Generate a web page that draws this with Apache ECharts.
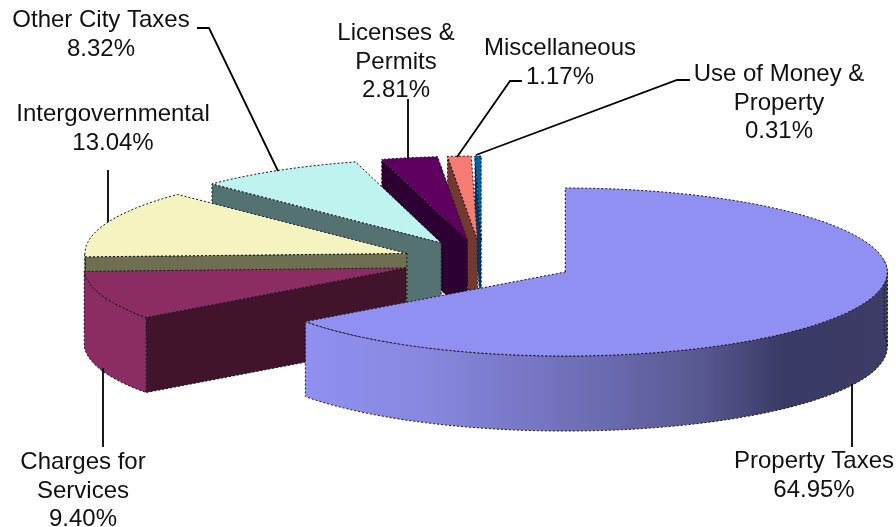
<!DOCTYPE html>
<html>
<head>
<meta charset="utf-8">
<style>html,body{margin:0;padding:0;background:#fff}#chart{width:896px;height:527px}</style>
<script src="https://cdn.jsdelivr.net/npm/echarts@6/dist/echarts.min.js"></script>
</head>
<body>
<div id="chart"></div>
<script>
// Share of revenue by source, in percent, clockwise from twelve o'clock.
const categories = ['Property Taxes', 'Charges for Services', 'Intergovernmental', 'Other City Taxes', 'Licenses & Permits', 'Miscellaneous', 'Use of Money & Property'];
const shares = [64.95, 9.40, 13.04, 8.32, 2.81, 1.17, 0.31];
const explode = [0.29, 0.25, 0.25, 0.25, 0.25, 0.25, 0.25];
const topColors = ['#9090F2', '#8B2C62', '#F5F3C0', '#BEF3EF', '#5F0060', '#F57B73', '#0062A8'];
const edgeColors = ['#6C6CB8', '#41142B', '#6E6E50', '#557272', '#2D0033', '#713930', '#003A68'];
const wallColors = ['#9090F2', '#8B2C62', '#6E6E50', '#557272', '#2D0033', '#713930', '#003A68'];

// Projected pie geometry
const cx = 482, cy = 261, rx = 322, ry = 84, depth = 75;
// Back slices paint first so nearer ones overlap them
const paintOrder = [6, 5, 4, 3, 2, 1, 0];

// Callout text and leader lines
const labelTexts = ['Property Taxes\n64.95%', 'Charges for\nServices\n9.40%', 'Intergovernmental\n13.04%', 'Other City Taxes\n8.32%', 'Licenses &\nPermits\n2.81%', 'Miscellaneous\n1.17%', 'Use of Money &\nProperty\n0.31%'];
const labelAnchors = [[814, 476], [83, 491], [113, 129], [101, 35], [396, 62], [560, 63], [779, 103]];
const leaders = [
  [[852, 384], [852, 447]],
  [[103, 368], [103, 447]],
  [[108, 170], [108, 222]],
  [[197, 28], [209, 28], [278, 171]],
  [[408, 99], [408, 158]],
  [[522, 81], [510, 81], [457, 157]],
  [[690, 80], [677, 80], [476, 155]]
];

const total = shares.reduce((a, b) => a + b, 0);
const startAngles = [];
shares.reduce((acc, v, i) => { startAngles[i] = acc; return acc + v / total * 360; }, 0);

const rad = d => d * Math.PI / 180;
function rimPoint(apex, deg, dy) {
  return [apex[0] + rx * Math.sin(rad(deg)), apex[1] - ry * Math.cos(rad(deg)) + dy];
}
function arcPoints(apex, from, to, dy) {
  const pts = [];
  const n = Math.max(2, Math.ceil((to - from) / 2));
  for (let k = 0; k <= n; k++) pts.push(rimPoint(apex, from + (to - from) * k / n, dy));
  return pts;
}
const outline = { stroke: '#15151f', lineWidth: 1, lineDash: [2, 2] };
const propertyWall = {
  type: 'linear', x: 0, y: 0, x2: 1, y2: 0,
  colorStops: [
    { offset: 0, color: '#9090F2' }, { offset: 0.2, color: '#8888E0' },
    { offset: 0.5, color: '#6C6CB2' }, { offset: 0.68, color: '#585890' },
    { offset: 0.82, color: '#3A3A66' }, { offset: 1, color: '#3C3C66' }
  ]
};

function renderSlice(params, api) {
  const i = api.value(0);
  const from = startAngles[i];
  const to = from + shares[i] / total * 360;
  const mid = rad((from + to) / 2);
  const apex = [cx + explode[i] * rx * Math.sin(mid), cy - explode[i] * ry * Math.cos(mid)];
  const children = [];
  // Radial wall, visible when the leading edge faces the viewer
  if (from >= 180) {
    const p = rimPoint(apex, from, 0);
    children.push({
      type: 'polygon',
      shape: { points: [apex, p, [p[0], p[1] + depth], [apex[0], apex[1] + depth]] },
      style: { fill: edgeColors[i], ...outline }
    });
  }
  // Outer wall on the near half of the ellipse
  const wallFrom = Math.max(from, 90), wallTo = Math.min(to, 270);
  if (wallFrom < wallTo) {
    const upper = arcPoints(apex, wallFrom, wallTo, 0);
    const lower = arcPoints(apex, wallFrom, wallTo, depth).reverse();
    children.push({
      type: 'polygon',
      shape: { points: upper.concat(lower) },
      style: { fill: i === 0 ? propertyWall : wallColors[i], ...outline }
    });
  }
  if (i === 0) {
    // Right end of the rim curls behind the top face
    const upper = arcPoints(apex, 82, 90, 0);
    const lower = arcPoints(apex, 82, 90, depth).reverse();
    children.push({
      type: 'polygon',
      shape: { points: upper.concat(lower) },
      style: { fill: '#3C3C66', ...outline }
    });
  }
  // Top face
  children.push({
    type: 'polygon',
    shape: { points: [apex].concat(arcPoints(apex, from, to, 0)) },
    style: { fill: topColors[i], ...outline }
  });
  return { type: 'group', children };
}

const labelGraphics = labelTexts.map((text, i) => ({
  type: 'text', x: labelAnchors[i][0], y: labelAnchors[i][1], z: 10, silent: true,
  style: { text, fill: '#111', font: '24px "Liberation Sans", Arial, sans-serif', lineHeight: 28.5, textAlign: 'center', textVerticalAlign: 'middle' }
}));
const leaderGraphics = leaders.map(points => ({
  type: 'polyline', z: 9, silent: true,
  shape: { points },
  style: { stroke: '#000', lineWidth: 1.8, fill: 'none' }
}));

const chart = echarts.init(document.getElementById('chart'), null, { renderer: 'canvas' });
chart.setOption({
  animation: false,
  backgroundColor: '#fff',
  series: [{
    type: 'custom',
    coordinateSystem: 'none',
    silent: true,
    renderItem: renderSlice,
    data: paintOrder.map(i => ({ value: [i], name: categories[i] }))
  }],
  graphic: labelGraphics.concat(leaderGraphics)
});
</script>
</body>
</html>
